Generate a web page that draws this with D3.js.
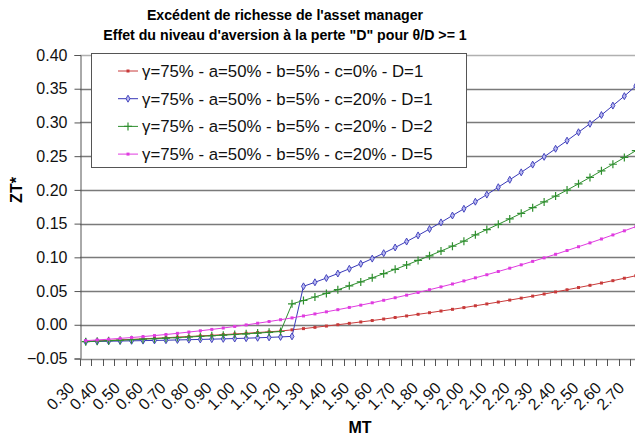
<!DOCTYPE html>
<html><head><meta charset="utf-8">
<script src="https://cdn.jsdelivr.net/npm/d3@7"></script>
<style>body{margin:0;background:#fff}svg{display:block}text{font-family:"Liberation Sans",Arial,sans-serif}</style>
</head><body><svg id="c" width="635" height="440"></svg>
<script>
const categories = ["0.30","0.35","0.40","0.45","0.50","0.55","0.60","0.65","0.70","0.75","0.80","0.85","0.90","0.95","1.00","1.05","1.10","1.15","1.20","1.25","1.30","1.35","1.40","1.45","1.50","1.55","1.60","1.65","1.70","1.75","1.80","1.85","1.90","1.95","2.00","2.05","2.10","2.15","2.20","2.25","2.30","2.35","2.40","2.45","2.50","2.55","2.60","2.65","2.70","2.75"];
const tickLabels = ["0.30","0.40","0.50","0.60","0.70","0.80","0.90","1.00","1.10","1.20","1.30","1.40","1.50","1.60","1.70","1.80","1.90","2.00","2.10","2.20","2.30","2.40","2.50","2.60","2.70"];
const yTicks = [-0.05,0,0.05,0.10,0.15,0.20,0.25,0.30,0.35,0.40];
const seriesNames = ["γ=75% - a=50% - b=5% - c=0% - D=1","γ=75% - a=50% - b=5% - c=20% - D=1","γ=75% - a=50% - b=5% - c=20% - D=2","γ=75% - a=50% - b=5% - c=20% - D=5"];
const redC0D1 = [-0.0248,-0.0240,-0.0232,-0.0224,-0.0216,-0.0208,-0.0200,-0.0192,-0.0183,-0.0174,-0.0165,-0.0156,-0.0146,-0.0136,-0.0126,-0.0115,-0.0104,-0.0093,-0.0075,-0.0057,-0.0038,-0.0019,0.0001,0.0021,0.0042,0.0063,0.0085,0.0108,0.0131,0.0155,0.0179,0.0204,0.0229,0.0255,0.0282,0.0309,0.0337,0.0366,0.0395,0.0425,0.0456,0.0487,0.0519,0.0552,0.0585,0.0619,0.0654,0.0690,0.0727,0.0765];
const blueC20D1 = [-0.0250,-0.0247,-0.0244,-0.0241,-0.0238,-0.0235,-0.0232,-0.0229,-0.0225,-0.0221,-0.0217,-0.0213,-0.0209,-0.0204,-0.0199,-0.0193,-0.0187,-0.0180,-0.0172,0.057,0.063,0.0693,0.076,0.083,0.0904,0.0981,0.1062,0.1146,0.1234,0.1325,0.142,0.1518,0.162,0.172,0.1825,0.193,0.204,0.215,0.226,0.2375,0.249,0.261,0.273,0.2855,0.298,0.311,0.325,0.339,0.354,0.369];
const greenC20D2 = [-0.0250,-0.0243,-0.0236,-0.0229,-0.0222,-0.0214,-0.0206,-0.0198,-0.0190,-0.0181,-0.0172,-0.0163,-0.0154,-0.0144,-0.0134,-0.0123,-0.0112,-0.0100,0.031,0.036,0.0412,0.0465,0.052,0.0577,0.0636,0.0696,0.0758,0.0822,0.0887,0.0954,0.1023,0.1093,0.1165,0.1239,0.1334,0.1411,0.149,0.157,0.1652,0.1736,0.1821,0.1908,0.1997,0.2090,0.2185,0.2282,0.2380,0.2480,0.2581,0.2683];
const pinkC20D5 = [-0.0235,-0.0225,-0.0214,-0.0202,-0.0189,-0.0175,-0.0160,-0.0144,-0.0127,-0.0108,-0.0089,-0.0069,-0.0048,-0.0025,-0.0002,0.0023,0.0048,0.0075,0.0102,0.0131,0.0161,0.0192,0.0224,0.0257,0.0291,0.0326,0.0363,0.0401,0.0439,0.0479,0.0520,0.0562,0.0605,0.0650,0.0696,0.0742,0.0790,0.0839,0.0889,0.0940,0.0992,0.1045,0.1101,0.1157,0.1214,0.1272,0.1332,0.1393,0.1455,0.1516];

const series = [
  {name: seriesNames[0], values: redC0D1, color: "#c83a3a", marker: "square"},
  {name: seriesNames[1], values: blueC20D1, color: "#3838b8", marker: "diamond"},
  {name: seriesNames[2], values: greenC20D2, color: "#2f8f2f", marker: "plus"},
  {name: seriesNames[3], values: pinkC20D5, color: "#e03ce0", marker: "square"}
];

const svg = d3.select("#c");
const left = 80, bandW = 11.46;
const x = d3.scaleBand().domain(categories).range([left, left + bandW * categories.length]).padding(0);
const y = d3.scaleLinear().domain([-0.05, 0.40]).range([358.5, 55]);
const cx = c => x(c) + x.bandwidth() / 2;

// gridlines
svg.append("g").selectAll("line").data(yTicks.filter(v => v > -0.05)).join("line")
  .attr("x1", left).attr("x2", 660)
  .attr("y1", d => Math.round(y(d)) + 0.5).attr("y2", d => Math.round(y(d)) + 0.5)
  .attr("stroke", d => d === 0.40 ? "#b0b0b0" : "#7a7a7a").attr("stroke-width", 1.3);

// y axis
const yAxis = d3.axisLeft(y).tickValues(yTicks).tickFormat(d3.format(".2f")).tickSize(6).tickPadding(7);
const gy = svg.append("g").attr("transform", `translate(${left + 0.5},0)`).call(yAxis);
gy.select(".domain").attr("stroke", "#555");
gy.selectAll(".tick line").attr("stroke", "#555");
gy.selectAll(".tick text").attr("font-size", 16).attr("fill", "#111").attr("x", -13);

// x axis (ticks at category boundaries)
const xb = y(-0.05);
svg.append("line").attr("x1", left).attr("x2", 660).attr("y1", Math.round(xb) + 0.5).attr("y2", Math.round(xb) + 0.5).attr("stroke", "#8a8a8a").attr("stroke-width", 1.3);
svg.append("g").selectAll("line").data(categories).join("line")
  .attr("x1", d => Math.round(x(d)) + 0.5).attr("x2", d => Math.round(x(d)) + 0.5)
  .attr("y1", Math.round(xb)).attr("y2", Math.round(xb) + 7).attr("stroke", "#555");
svg.append("g").selectAll("text").data(tickLabels).join("text")
  .attr("transform", d => `translate(${cx(d) - 10.5},389) rotate(-45)`)
  .attr("text-anchor", "end").attr("font-size", 16).attr("fill", "#111").text(d => d);

// series
const line = d3.line().x((d, i) => cx(categories[i])).y(d => y(d));
const plot = svg.append("g");
function marker(g, type, color) {
  if (type === "square") g.append("rect").attr("x", -1.5).attr("y", -1.5).attr("width", 3).attr("height", 3).attr("fill", color);
  else if (type === "diamond") g.append("path").attr("d", d3.symbol(d3.symbolDiamond, 14)()).attr("fill", "#b8b8f0").attr("stroke", color).attr("stroke-width", 0.9);
  else if (type === "plus") g.append("path").attr("d", "M-4,0H4M0,-4V4").attr("stroke", color).attr("stroke-width", 1.2);
}
series.forEach(s => {
  plot.append("path").datum(s.values).attr("d", line).attr("fill", "none").attr("stroke", s.color).attr("stroke-width", 1);
  plot.append("g").selectAll("g").data(s.values).join("g")
    .attr("transform", (d, i) => `translate(${cx(categories[i])},${y(d)})`)
    .each(function () { marker(d3.select(this), s.marker, s.color); });
});

// legend
const lg = svg.append("g");
lg.append("rect").attr("x", 91.5).attr("y", 53.5).attr("width", 375).attr("height", 114).attr("fill", "#fff").attr("stroke", "#555");
series.forEach((s, i) => {
  const ly = 71 + i * 27.7;
  lg.append("line").attr("x1", 118).attr("x2", 138).attr("y1", ly).attr("y2", ly).attr("stroke", s.color);
  const m = lg.append("g").attr("transform", `translate(128,${ly})`);
  marker(m, s.marker, s.color);
  lg.append("text").attr("x", 142).attr("y", ly + 6).attr("font-size", 16.8).attr("fill", "#111").text(s.name);
});

// titles
svg.append("text").attr("x", 285).attr("y", 20).attr("text-anchor", "middle").attr("font-size", 14.2).attr("font-weight", "bold").text("Excédent de richesse de l'asset manager");
svg.append("text").attr("x", 285).attr("y", 40).attr("text-anchor", "middle").attr("font-size", 14.2).attr("font-weight", "bold").text("Effet du niveau d'aversion à la perte \"D\" pour θ/D >= 1");
svg.append("text").attr("transform", "translate(22,190) rotate(-90)").attr("text-anchor", "middle").attr("font-size", 16).attr("font-weight", "bold").text("ZT*");
svg.append("text").attr("x", 360).attr("y", 433).attr("text-anchor", "middle").attr("font-size", 16).attr("font-weight", "bold").text("MT");
</script></body></html>
